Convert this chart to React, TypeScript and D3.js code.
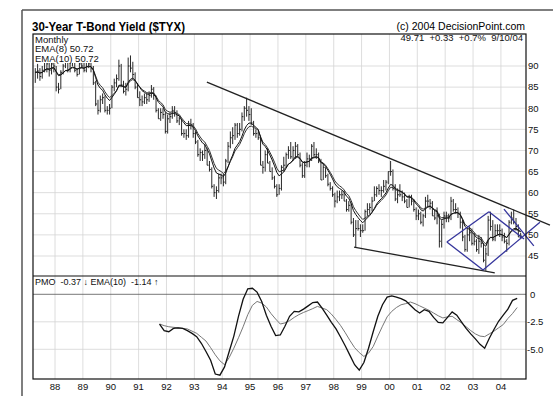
import React from 'react'
import * as d3 from 'd3'

// monthly bars of $TYX (yield x10), first bar = Apr 1987
const firstMonth = 1987 + 3 / 12
const highs = [
  89.5, 90.5, 89.5, 90, 91.5, 91.5, 91.5, 91, 91.5,
  90, 86, 89, 90.5, 91.5, 91.5, 91.5, 92, 91.5, 89.5, 91, 91,
  91, 91.5, 92, 91, 90, 86.5, 82, 83, 83.5, 83, 80.5, 81,
  85.5, 87, 88, 91.5, 90.5, 86.5, 86, 92, 92.5, 91, 88.5, 86,
  84, 83, 83.5, 83.5, 84, 85.5, 85, 83, 80, 80, 80, 79,
  78.5, 79, 80.5, 80.5, 79.5, 78, 77.5, 75, 75, 77, 77.5, 76.5,
  74.5, 72.5, 70.5, 70, 71.5, 70.5, 67.5, 66, 62, 61.5, 64.5, 64.5,
  64.5, 68, 72, 74.5, 75.5, 76.5, 76.5, 76.5, 79, 80.5, 82.5, 80.5,
  80, 77, 75, 74.5, 73.5, 67.5, 70, 70.5, 67.5, 66, 64, 62,
  62, 66.5, 68.5, 69.5, 71, 72, 71, 72, 71.5, 69.5, 67, 67.5,
  69.5, 69, 71.5, 72, 70.5, 69.5, 68, 67, 66, 64.5, 62.5, 61.5,
  60, 60.5, 60.5, 60.5, 60.5, 58.5, 58, 57.5, 54, 53.5, 53.5, 52.5,
  52.5, 56, 57.5, 57.5, 59, 61.5, 61.5, 62, 61.5, 63, 63, 65,
  67.5, 65.5, 62, 61, 62, 60.5, 60, 58.5, 59.5, 59.5, 58.5, 56.5,
  56, 55.5, 55, 59, 59.5, 58.5, 58, 56, 56.5, 55, 53.5, 55.5,
  55.5, 55, 59, 58.5, 57.5, 56.5, 55.5, 53.5, 50, 51.5, 52, 51.5,
  50.5, 49, 50, 49.5, 48, 47, 54.5, 55.5, 53.5, 52.5, 52.5, 52.5,
  51.5, 50.5, 49, 53.5, 55.5, 56, 54, 52.5, 50.5,
]
const lows = [
  86, 87, 86.5, 87, 88.5, 88.5, 87.5, 88, 88.5,
  84, 83.5, 84.5, 88, 89.5, 88.5, 88.5, 90, 88.5, 87.5, 88, 89.5,
  88.5, 88.5, 89.5, 88.5, 85.5, 80.5, 78.5, 79, 81, 79, 78.5, 78.5,
  80, 84, 85, 86.5, 85, 83.5, 83, 84, 88.5, 87, 84.5, 82.5,
  80.5, 80.5, 81, 81, 81.5, 82.5, 82, 79, 77.5, 77, 77.5, 74,
  74, 76.5, 77.5, 78, 76.5, 76, 73.5, 73, 72.5, 73, 75, 73,
  71.5, 68.5, 67.5, 67.5, 68, 66.5, 65, 61, 59, 58.5, 60, 62,
  61.5, 62, 67, 70.5, 71.5, 72.5, 73, 73.5, 74.5, 77, 78, 77,
  76, 73.5, 73, 72.5, 66.5, 64.5, 65, 67, 65, 63, 61, 59,
  59.5, 60.5, 65, 66, 68, 68, 67.5, 68, 68.5, 66, 63.5, 63.5,
  66, 66, 67.5, 68.5, 68, 67, 63, 63, 63.5, 61.5, 60.5, 59,
  56.5, 57.5, 58, 58.5, 58, 55.5, 55.5, 52.5, 49.5, 47, 51, 49.5,
  50.5, 51, 54.5, 55, 55.5, 58, 59, 59.5, 59, 60, 60.5, 62,
  64, 60.5, 58, 57.5, 59, 58, 57.5, 56.5, 56.5, 57, 55.5, 53.5,
  53.5, 52.5, 52, 54, 56.5, 56, 54.5, 53.5, 52.5, 47, 47, 51.5,
  53, 53, 53.5, 55.5, 55, 54, 51.5, 48.5, 46, 46, 48.5, 47.5,
  47.5, 46, 45.5, 47, 43.5, 41.5, 45, 51, 48.5, 48.5, 50, 49.5,
  48.5, 48, 46, 47.5, 52.5, 52.5, 51, 49.5, 49,
]
const closes = [
  88.5, 88.8, 87.5, 89, 91, 90.5, 89, 90.5, 90,
  85, 84.5, 88.5, 90, 91, 89, 91, 91, 89, 88, 90.5, 90,
  89, 91, 90.5, 89.5, 86, 81, 79.5, 82, 82.5, 79.5, 79.5, 80,
  85, 86, 87, 90, 85.5, 84, 84.5, 90, 89.5, 88, 85, 82.5,
  82, 81.5, 82.5, 82, 83, 84.5, 83, 79.5, 77.5, 79, 78.5, 74.5,
  77.5, 78, 79.5, 79, 77, 77.5, 74, 74, 73.5, 76, 76, 74,
  72, 69, 69.5, 69, 70, 66.5, 65.5, 61.5, 60, 60.5, 63.5, 63.5,
  62.5, 67.5, 71, 73, 73.5, 76, 74, 75, 78, 80, 79.5, 78.5,
  76.5, 74, 74, 73, 66.5, 66, 69, 67, 65, 63.5, 61.5, 59.5,
  61, 66, 66.5, 69, 70, 68.5, 70, 71, 69, 66.5, 64, 66.5,
  68, 68, 71, 69, 69, 67.5, 63, 66, 64, 62, 61, 59.5,
  58, 59, 59.5, 59.5, 58, 56, 57, 53, 50, 51.5, 51.5, 51,
  51, 55.5, 56, 56.5, 58, 59.5, 61, 60.5, 60.5, 61.5, 62.5, 65,
  65, 61, 58.5, 59.5, 59.5, 59, 58, 56.5, 59, 58, 56, 54.5,
  55, 53, 54.5, 58, 58, 57.5, 54.5, 54, 54.5, 48.5, 52.5, 54.5,
  54.5, 54, 58, 56, 56, 55, 53, 49.5, 46.5, 50, 50.5, 48,
  48.5, 46.5, 48.5, 48, 44, 45.5, 53.5, 52, 49, 51, 51, 51,
  49.5, 48.5, 48, 53, 54, 53, 52, 49.5, 49.7,
]

// PMO and its EMA(10), read every two months from Oct 1991
const pmoStart = 1991.75
const pmo = [
  -2.7, -3.3, -3.4, -3.1, -3.05, -3.1, -3.3, -3.55, -3.85, -4.45,
  -5.2, -6.0, -7.25, -7.35, -6.6, -5.2, -3.8, -2.0, -0.45, 0.5,
  0.55, 0.2, -0.65, -1.9, -2.9, -3.75, -3.7, -2.9, -2.0, -1.55,
  -1.6, -1.35, -1.05, -0.75, -0.7, -1.25, -1.9, -2.55, -3.15, -3.9,
  -4.7, -5.55, -6.4, -6.9, -6.2, -4.9, -3.4, -2.0, -0.95, -0.25,
  -0.15, -0.25, -0.4, -0.6, -1.0, -1.4, -1.7, -1.4, -1.55, -2.1,
  -2.55, -2.6, -2.1, -1.6, -1.9, -2.5, -3.1, -3.6, -4.05, -4.55,
  -4.9, -4.0, -3.2, -2.45, -1.9, -1.35, -0.55, -0.37,
]
const pmoSignal = [
  -2.7, -2.85, -2.95, -3.0, -3.05, -3.1, -3.15, -3.35, -3.55, -3.9,
  -4.25, -4.85, -5.5, -6.05, -6.4, -5.75, -4.9, -3.95, -2.95, -1.85,
  -1.0, -0.65, -0.8, -1.15, -1.75, -2.25, -2.7, -2.6, -2.4, -2.1,
  -1.85, -1.65, -1.48, -1.3, -1.1, -1.25, -1.4, -1.8, -2.3, -2.85,
  -3.5, -4.2, -4.85, -5.3, -5.65, -5.35, -4.75, -3.8, -2.9, -2.05,
  -1.55, -1.2, -0.95, -0.85, -0.7, -0.85, -1.05, -1.25, -1.45, -1.7,
  -1.95, -2.15, -2.05, -2.0, -2.3, -2.6, -2.95, -3.3, -3.6, -3.8,
  -3.85, -3.6, -3.35, -3.05, -2.75, -2.2, -1.75, -1.2,
]

const priceTicks = [45, 50, 55, 60, 65, 70, 75, 80, 85, 90]
const pmoTicks = [0, -2.5, -5]
const pmoTickLabels = ['0', '-2.5', '-5.0']
const years = [1988, 1989, 1990, 1991, 1992, 1993, 1994, 1995, 1996, 1997, 1998, 1999, 2000, 2001, 2002, 2003, 2004]
const yearLabels = ['88', '89', '90', '91', '92', '93', '94', '95', '96', '97', '98', '99', '00', '01', '02', '03', '04']

// hand drawn trend lines, [year, yield] pairs
const resistanceLine = [[1993.45, 86.2], [2005.76, 52.3]]
const supportLine = [[1998.73, 47.1], [2003.78, 41.0]]
const blueLines = [
  [[2002.06, 48.3], [2003.57, 55.5]],
  [[2002.06, 48.3], [2003.36, 41.7]],
  [[2003.36, 41.7], [2005.4, 53.0]],
  [[2003.57, 55.5], [2004.83, 49.0]],
  [[2004.11, 56.1], [2005.18, 47.4]],
]

const ema = (vals: number[], n: number) => {
  const k = 2 / (n + 1)
  let prev = vals[0]
  return vals.map((v, i) => (i === 0 ? v : (prev = v * k + prev * (1 - k))))
}

const font = 'Arial, "Liberation Sans", sans-serif'

export default function App() {
  const left = 33, right = 526, top = 34, mid = 276, bottom = 379
  const x = d3.scaleLinear().domain([1987.21, 2004.9]).range([left, right])
  const y = d3.scaleLinear().domain([40.26, 97.58]).range([mid, top])
  const yp = d3.scaleLinear().domain([-7.7, 1.664]).range([bottom, mid])

  const monthX = (i: number) => x(firstMonth + (i + 0.5) / 12)
  const ema8 = ema(closes, 8)
  const ema10 = ema(closes, 10)
  const priceLine = d3.line<number>().x((d, i) => monthX(i)).y(d => y(d))
  const pmoLine = d3.line<number>().x((d, i) => x(pmoStart + i / 6)).y(d => yp(d))
  const seg = (p: number[][]) => `M${x(p[0][0])},${y(p[0][1])}L${x(p[1][0])},${y(p[1][1])}`

  return (
    <svg width={553} height={396} style={{ position: 'absolute', left: 0, top: 0, background: '#fff' }} fontFamily={font}>
      <defs>
        <clipPath id="pp"><rect x={left} y={top} width={right - left} height={mid - top} /></clipPath>
        <clipPath id="pm"><rect x={left} y={mid} width={right - left} height={bottom - mid} /></clipPath>
      </defs>
      {/* page border from the scan */}
      <line x1={22} y1={10} x2={553} y2={10} stroke="#555" strokeWidth={1.5} />
      <line x1={22} y1={10} x2={22} y2={396} stroke="#555" strokeWidth={1.5} />

      {/* grid */}
      {years.map(yr => (
        <line key={yr} x1={x(yr)} x2={x(yr)} y1={top} y2={bottom} stroke="#d4d4d4" strokeWidth={0.8} />
      ))}
      {priceTicks.map(t => (
        <line key={t} x1={left} x2={right} y1={y(t)} y2={y(t)} stroke="#d4d4d4" strokeWidth={0.8} />
      ))}
      {pmoTicks.map(t => (
        <line key={t} x1={left} x2={right} y1={yp(t)} y2={yp(t)} stroke={t === 0 ? '#555' : '#d4d4d4'} strokeWidth={0.8} />
      ))}

      {/* price bars + emas */}
      <g clipPath="url(#pp)">
        {closes.map((c, i) => {
          const mx = monthX(i)
          return (
            <g key={i} stroke="#111" strokeWidth={0.9}>
              <line x1={mx} x2={mx} y1={y(highs[i])} y2={y(lows[i])} />
              <line x1={mx} x2={mx + 1.4} y1={y(c)} y2={y(c)} />
            </g>
          )
        })}
        <path d={priceLine(ema10) || ''} fill="none" stroke="#333" strokeWidth={1} />
        <path d={priceLine(ema8) || ''} fill="none" stroke="#111" strokeWidth={1} />
      </g>

      {/* trend lines */}
      <path d={seg(resistanceLine)} stroke="#222" strokeWidth={1.3} fill="none" />
      <path d={seg(supportLine)} stroke="#222" strokeWidth={1.3} fill="none" />
      {blueLines.map((l, i) => (
        <path key={i} d={seg(l)} stroke="#35359c" strokeWidth={1.3} fill="none" />
      ))}

      {/* pmo */}
      <g clipPath="url(#pm)">
        <path d={pmoLine(pmoSignal) || ''} fill="none" stroke="#777" strokeWidth={1} />
        <path d={pmoLine(pmo) || ''} fill="none" stroke="#111" strokeWidth={1.3} />
      </g>

      {/* frames */}
      <rect x={left} y={top} width={right - left} height={bottom - top} fill="none" stroke="#111" strokeWidth={1.2} />
      <line x1={left} x2={right} y1={mid} y2={mid} stroke="#111" strokeWidth={1.2} />

      {/* legend */}
      <rect x={left + 1} y={top + 1} width={62} height={28} fill="#fff" />
      <g fontSize={9.5} fill="#111">
        <text x={35} y={42.5}>Monthly</text>
        <text x={35} y={52}>EMA(8) 50.72</text>
        <text x={35} y={61.5}>EMA(10) 50.72</text>
        <text x={523} y={40.5} textAnchor="end" style={{ whiteSpace: 'pre' }}>49.71  +0.33  +0.7%  9/10/04</text>
        <text x={35} y={285} style={{ whiteSpace: 'pre' }} fontSize={9}>PMO  -0.37 ↓ EMA(10)  -1.14 ↑</text>
      </g>

      {/* titles */}
      <text x={32} y={30.5} fontSize={13.5} fontWeight="bold" textLength={153} lengthAdjust="spacingAndGlyphs">30-Year T-Bond Yield ($TYX)</text>
      <text x={525} y={29.5} fontSize={10.5} textAnchor="end">(c) 2004 DecisionPoint.com</text>

      {/* axes labels */}
      <g fontSize={9.5} fill="#111">
        {priceTicks.map(t => (
          <text key={t} x={528} y={y(t)} dy="0.35em">{t}</text>
        ))}
        {pmoTicks.map((t, i) => (
          <text key={t} x={t === 0 ? 530 : 527} y={yp(t)} dy="0.35em">{pmoTickLabels[i]}</text>
        ))}
        {years.map((yr, i) => (
          <text key={yr} x={x(yr)} y={390} textAnchor="middle">{yearLabels[i]}</text>
        ))}
      </g>
    </svg>
  )
}
